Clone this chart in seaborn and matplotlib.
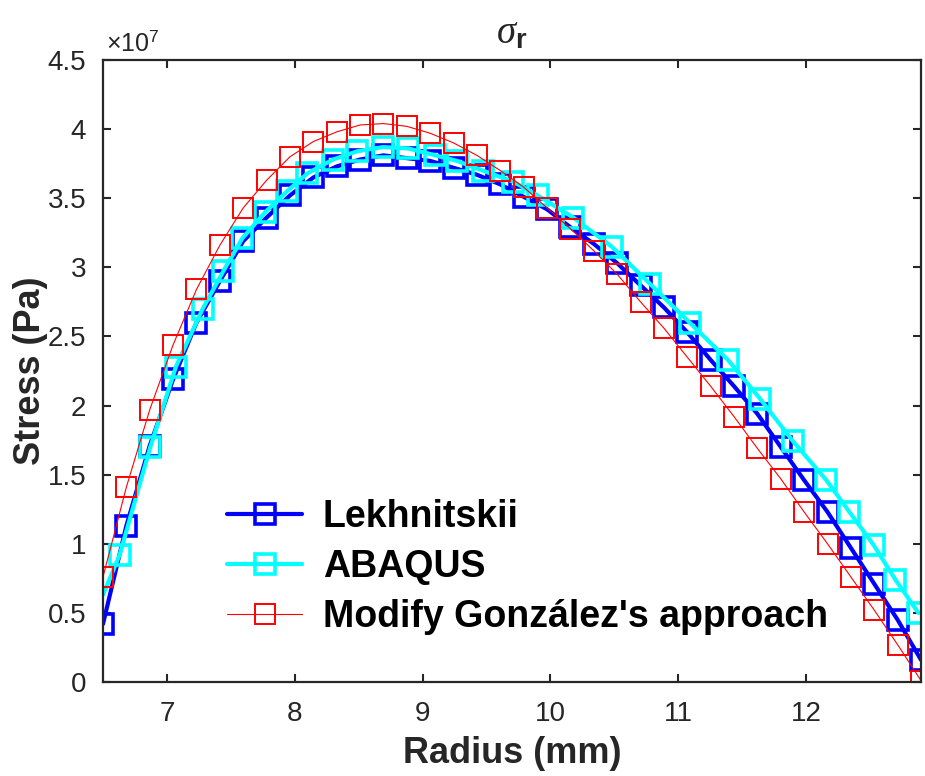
import numpy as np
import matplotlib
matplotlib.use("Agg")
import matplotlib.pyplot as plt
import seaborn as sns
from matplotlib.ticker import FuncFormatter, MultipleLocator

# Radial positions (mm) for the analytical solutions
radius = np.linspace(6.5, 12.9, 36)

# Radial stress, in units of 1e7 Pa
lekhnitskii = [0.42, 1.13, 1.71, 2.19, 2.60, 2.90, 3.19, 3.36, 3.52, 3.65, 3.73, 3.78,
               3.81, 3.79, 3.77, 3.72, 3.67, 3.60, 3.51, 3.42, 3.29, 3.17, 3.03, 2.87,
               2.71, 2.53, 2.33, 2.14, 1.94, 1.70, 1.46, 1.23, 0.97, 0.71, 0.45, 0.16]

gonzalez = [0.76, 1.41, 1.97, 2.44, 2.84, 3.16, 3.43, 3.63, 3.80, 3.91, 3.98, 4.03,
            4.04, 4.02, 3.97, 3.90, 3.81, 3.70, 3.58, 3.43, 3.28, 3.12, 2.95, 2.75,
            2.56, 2.35, 2.14, 1.92, 1.69, 1.47, 1.23, 1.00, 0.76, 0.52, 0.27, 0.01]

# Finite-element nodes (mm) and radial stress (1e7 Pa)
abaqus_r = [6.50, 6.63, 6.87, 7.07, 7.28, 7.44, 7.59, 7.77, 7.94, 8.10, 8.30, 8.49,
            8.69, 8.89, 9.10, 9.27, 9.47, 9.71, 9.90, 10.18, 10.48, 10.78, 11.09,
            11.39, 11.64, 11.90, 12.16, 12.34, 12.53, 12.70, 12.88]
abaqus = [0.63, 0.92, 1.70, 2.28, 2.70, 2.97, 3.21, 3.40, 3.55, 3.68, 3.78, 3.84,
          3.87, 3.86, 3.81, 3.77, 3.70, 3.62, 3.52, 3.36, 3.15, 2.88, 2.60,
          2.33, 2.05, 1.74, 1.46, 1.23, 0.99, 0.74, 0.50]

scale = 1e7
x_ticks = [7, 8, 9, 10, 11, 12]

sns.set_style("ticks")
plt.rcParams["font.family"] = ["Liberation Sans Narrow", "Liberation Sans", "DejaVu Sans"]
plt.rcParams["mathtext.fontset"] = "custom"
plt.rcParams["mathtext.it"] = "Liberation Serif:italic"
plt.rcParams["mathtext.bf"] = "Liberation Sans:bold"
plt.rcParams["mathtext.rm"] = "Liberation Sans"

fig = plt.figure(figsize=(9.25, 7.76), dpi=100)
ax = fig.add_axes([103 / 925, 1 - 682 / 776, 818 / 925, 622 / 776])

common = dict(marker="s", markerfacecolor="none", markersize=14, ax=ax,
              sort=False, estimator=None)

sns.lineplot(x=radius, y=np.array(lekhnitskii) * scale, color="#0000ff",
             linewidth=3, markeredgewidth=2.6, markeredgecolor="#0000ff",
             label="Lekhnitskii", **common)
sns.lineplot(x=abaqus_r, y=np.array(abaqus) * scale, color="#00ffff",
             linewidth=3, markeredgewidth=2.6, markeredgecolor="#00ffff",
             markevery=list(range(1, len(abaqus))), label="ABAQUS", **common)
sns.lineplot(x=radius, y=np.array(gonzalez) * scale, color="#ff0000",
             linewidth=0.8, markeredgewidth=1.4, markeredgecolor="#ff0000",
             label="Modify González's approach", **common)

ax.set_xlim(6.5, 12.9)
ax.set_ylim(0, 4.5e7)
ax.set_xticks(x_ticks)
ax.yaxis.set_major_locator(MultipleLocator(0.5e7))
ax.yaxis.set_major_formatter(FuncFormatter(lambda v, p: f"{v / scale:g}"))
ax.text(0.004, 1.006, r"$\times10^{7}$", transform=ax.transAxes, fontsize=18,
        color="#262626", ha="left", va="bottom")

for sp in ax.spines.values():
    sp.set_visible(True)
    sp.set_linewidth(1.6)
    sp.set_color("#262626")

ax.tick_params(direction="in", length=6, width=1.5, colors="#262626",
               labelsize=20, top=True, right=True)
ax.tick_params(axis="x", pad=14)
ax.tick_params(axis="y", pad=12)

ax.set_xlabel("Radius (mm)", fontsize=26, fontweight="bold",
              family="Liberation Sans", color="#262626", labelpad=6)
ax.set_ylabel("Stress (Pa)", fontsize=26, fontweight="bold",
              family="Liberation Sans", color="#262626", labelpad=0)
ax.set_title(r"$\sigma_{\mathbf{r}}$", fontsize=28, pad=12)

leg = ax.legend(loc="center left", bbox_to_anchor=(0.152, 0.185), frameon=False,
                prop=dict(family="Liberation Sans", weight="bold", size=27),
                handlelength=2.0, handletextpad=0.55, labelspacing=0.38,
                borderpad=0, borderaxespad=0)
for t in leg.get_texts():
    t.set_color("black")

fig.savefig("out.png", dpi=100)
